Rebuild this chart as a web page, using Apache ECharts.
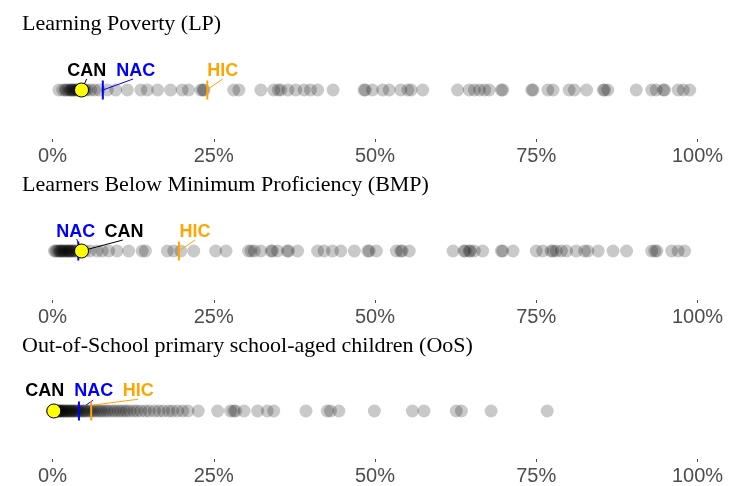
<!DOCTYPE html>
<html><head><meta charset="utf-8">
<script src="https://cdn.jsdelivr.net/npm/echarts@6/dist/echarts.min.js"></script>
<style>html,body{margin:0;padding:0;background:#fff}#c{width:735px;height:486px}</style>
</head><body><div id="c"></div>
<script>
// ---------------- data ----------------
const panelTitles = ['Learning Poverty (LP)', 'Learners Below Minimum Proficiency (BMP)', 'Out-of-School primary school-aged children (OoS)'];
const tickValues = [0, 25, 50, 75, 100];

const lpValues = [1.0, 1.6, 2.0, 2.1, 2.5, 2.7, 2.9, 3.0, 3.2, 3.4, 3.5, 3.8, 3.9, 4.1, 4.4, 4.8, 5.0, 5.3, 5.9, 6.5, 7.2,
  8.5, 9.8, 11.6, 13.7, 14.7, 16.3, 18.3, 20.1, 21.1, 23.0, 23.3, 23.5, 28.1, 28.9, 32.3, 34.3, 35.0, 35.4,
  36.5, 37.7, 39.0, 40.0, 41.1, 43.5, 48.3, 48.5, 49.6, 51.2, 52.2, 54.0, 55.1, 55.6, 57.4, 62.8, 64.6,
  65.4, 66.2, 67.0, 67.7, 69.6, 69.8, 74.3, 74.5, 76.8, 77.6, 80.1, 80.9, 82.8, 85.4, 85.6, 86.1, 90.5,
  92.9, 93.6, 94.7, 94.9, 97.0, 97.8, 98.8];

const bmpValues = [0.3, 0.5, 0.7, 1.0, 1.1, 1.3, 1.4, 1.6, 1.8, 1.9, 2.2, 2.3, 2.5, 2.6, 2.8, 3.0, 3.1, 3.4, 3.5, 3.8,
  4.3, 5.0, 5.8, 6.9, 7.7,
  8.7, 10.0, 11.8, 13.9, 14.4, 17.8, 18.8, 19.9, 21.9, 25.3, 26.9, 30.4, 30.8, 31.3, 32.3, 33.9, 34.1, 34.9,
  36.4, 36.6, 38.0, 41.1, 42.1, 43.4, 44.7, 46.8, 48.9, 49.1, 50.2, 53.3, 54.0, 54.2, 55.3, 62.1, 63.8,
  64.0, 64.6, 64.8, 65.4, 66.7, 69.6, 69.8, 71.4, 75.0, 76.0, 77.3, 77.6, 78.1, 78.9, 79.7, 81.2, 82.5,
  83.0, 84.6, 86.9, 89.0, 92.9, 93.4, 93.7, 96.0, 97.0, 98.0];

const oosValues = [0.0, 0.1, 0.2, 0.3, 0.4, 0.5, 0.6, 0.8, 0.9, 1.0, 1.1, 1.3, 1.4, 1.5, 1.7, 1.8, 2.0,
  2.1, 2.3, 2.5, 2.6, 2.8, 3.0, 3.1, 3.3, 3.5, 3.7, 3.9, 4.1, 4.3, 4.6, 4.8, 5.0, 5.3, 5.6, 5.9, 6.2, 6.5,
  6.9, 7.3, 7.6, 8.0, 8.4, 8.8, 9.3, 9.7, 10.2, 10.6, 11.1, 11.5, 12.0, 12.6, 13.1, 13.7,
  14.4, 15.0, 15.8, 16.5, 17.2, 18.0, 18.6, 19.4, 20.2, 21.0, 22.6,
  25.6, 27.6, 28.1, 28.4, 29.7, 31.8, 33.3, 34.3, 39.3, 42.6, 43.1, 44.4, 49.9, 55.8, 57.6, 62.6, 63.4,
  68.0, 76.7];

const groupNames = ['CAN', 'NAC', 'HIC'];
const lpGroups = [4.5, 7.8, 24.0];
const bmpGroups = [4.5, 4.0, 19.6];
const oosGroups = [0.2, 4.1, 6.0];

// ---------------- layout (annotation placement, not data) ----------------
const groupColors = ['#000000', '#0000ff', '#ffa500'];
const panelTops = [39, 200, 361];
// label centre [x in %, y in px above dot row]
const labelPlacement = [
  [[5.3, 19], [12.9, 19], [26.4, 19]],
  [[11.1, 19], [3.6, 19], [22.1, 19]],
  [[-1.2, 20], [6.4, 20], [13.3, 20]]
];
// leader segment start (near label) and end offsets
const segmentPlacement = [
  [[[5.3, 11], null], [[12.5, 11], null], [[26.4, 11], [24.1, 1]]],
  [[[10.9, 11], null], [[3.75, 12], [4.0, 8]], [[22.1, 11], [19.8, 1]]],
  [[[-1.2, 11], null], [[6.3, 11], [5.2, 6]], [[13.3, 12], [6.3, 6]]]
];

const panelValues = [lpValues, bmpValues, oosValues];
const panelGroups = [lpGroups, bmpGroups, oosGroups];

const grids = [], xAxes = [], yAxes = [], series = [], titles = [];
panelTops.forEach((top, i) => {
  grids.push({ left: 52.5, right: 37.5, top: top, height: 100 });
  titles.push({ text: panelTitles[i], left: 17, top: top - 31,
    textStyle: { fontFamily: 'Liberation Serif', fontSize: 22, fontWeight: 'normal', color: '#000' } });
  xAxes.push({ gridIndex: i, type: 'value', min: 0, max: 100, interval: 25, position: 'bottom',
    axisLine: { show: false, onZero: false }, splitLine: { show: false },
    axisTick: { show: true, length: 3, lineStyle: { color: '#4d4d4d', width: 1 } },
    axisLabel: { formatter: '{value}%', color: '#4d4d4d', fontSize: 20, fontFamily: 'Liberation Sans', margin: 7 } });
  yAxes.push({ gridIndex: i, type: 'value', min: -49, max: 51, show: false });

  series.push({ type: 'scatter', xAxisIndex: i, yAxisIndex: i, symbolSize: 13, silent: true,
    itemStyle: { color: 'rgba(0,0,0,0.21)', opacity: 1 },
    data: panelValues[i].map(v => [v, 0]) });

  const g = panelGroups[i];
  groupNames.forEach((name, k) => {
    const seg = segmentPlacement[i][k];
    const end = seg[1] ? seg[1] : [g[k], 0];
    series.push({ type: 'line', xAxisIndex: i, yAxisIndex: i, symbol: 'none', silent: true, clip: false,
      lineStyle: { color: groupColors[k], width: 1, opacity: 1 }, data: [seg[0], end], z: 3 });
  });
  [1, 2].forEach(k => {
    series.push({ type: 'scatter', xAxisIndex: i, yAxisIndex: i, symbol: 'rect', symbolSize: [2, 19],
      itemStyle: { color: groupColors[k], opacity: 1 }, data: [[g[k], 0]], z: 4, silent: true });
  });
  series.push({ type: 'scatter', xAxisIndex: i, yAxisIndex: i, symbol: 'circle', symbolSize: 14,
    itemStyle: { color: '#ffff00', borderColor: '#000', borderWidth: 1, opacity: 1 }, data: [[g[0], 0]], z: 5, silent: true });
  series.push({ type: 'scatter', xAxisIndex: i, yAxisIndex: i, symbolSize: 1, clip: false, silent: true, z: 6,
    itemStyle: { color: 'transparent', opacity: 1 },
    label: { show: true, position: 'inside', formatter: '{b}', fontFamily: 'Liberation Sans', fontWeight: 'bold', fontSize: 18 },
    data: groupNames.map((name, k) => ({ name: name, value: labelPlacement[i][k],
      label: { color: groupColors[k], opacity: 1 } })) });
});

const chart = echarts.init(document.getElementById('c'), null, { renderer: 'canvas' });
chart.setOption({ animation: false, backgroundColor: '#fff', title: titles, grid: grids,
  xAxis: xAxes, yAxis: yAxes, series: series });
</script></body></html>
